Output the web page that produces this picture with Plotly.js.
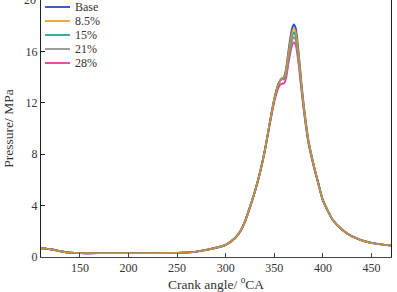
<!DOCTYPE html>
<html><head><meta charset="utf-8">
<script src="https://cdn.plot.ly/plotly-3.0.1.min.js"></script>
<style>html,body{margin:0;padding:0;background:#fff}#c{width:397px;height:292px}</style>
</head><body><div id="c"></div>
<script>
const angle = [110,120,130,140,150,175,200,225,250,260,270,280,290,300,310,315,320,325,330,335,340,345,350,355,358,360,362,365,368,370,372,375,378,380,385,390,395,400,410,420,430,440,450,460,470];
const pBase = [0.68,0.6,0.45,0.34,0.3,0.3,0.3,0.3,0.32,0.35,0.42,0.55,0.72,0.95,1.5,2.0,2.8,3.9,5.1,6.5,8.2,10.3,12.3,13.6,13.9,14.0,14.6,16.3,17.7,18.1,17.8,15.9,13.4,12.0,9.1,7.3,5.8,4.4,2.9,2.1,1.6,1.3,1.1,0.98,0.9];
const p85  = [0.68,0.6,0.45,0.34,0.3,0.3,0.3,0.3,0.32,0.35,0.42,0.55,0.72,0.95,1.5,2.0,2.8,3.9,5.1,6.5,8.2,10.3,12.3,13.6,13.9,14.0,14.5,16.1,17.4,17.8,17.5,15.7,13.3,11.9,9.1,7.3,5.8,4.4,2.9,2.1,1.6,1.3,1.1,0.98,0.9];
const p15  = [0.68,0.6,0.45,0.34,0.3,0.3,0.3,0.3,0.32,0.35,0.42,0.55,0.72,0.95,1.5,2.0,2.8,3.9,5.1,6.5,8.2,10.3,12.3,13.6,13.9,13.9,14.4,15.9,17.1,17.5,17.2,15.5,13.2,11.8,9.0,7.3,5.8,4.4,2.9,2.1,1.6,1.3,1.1,0.98,0.9];
const p21  = [0.68,0.6,0.45,0.34,0.3,0.3,0.3,0.3,0.32,0.35,0.42,0.55,0.72,0.95,1.5,2.0,2.8,3.9,5.1,6.5,8.2,10.3,12.3,13.6,13.9,13.8,14.2,15.6,16.8,17.1,16.9,15.3,13.1,11.7,9.0,7.3,5.8,4.4,2.9,2.1,1.6,1.3,1.1,0.98,0.9];
const p28  = [0.68,0.6,0.45,0.34,0.3,0.3,0.3,0.3,0.32,0.35,0.42,0.55,0.72,0.95,1.5,2.0,2.8,3.9,5.1,6.5,8.2,10.2,12.1,13.3,13.5,13.5,13.9,15.3,16.4,16.7,16.5,15.0,12.9,11.6,8.9,7.2,5.8,4.4,2.9,2.1,1.6,1.3,1.1,0.98,0.9];
const names = ['Base','8.5%','15%','21%','28%'];
const colors = ['#1f4fc4','#f0a028','#26a291','#929292','#e23c9e'];
const series = [pBase,p85,p15,p21,p28];
const drawOrder = [4,3,2,0,1];
const traces = drawOrder.map(i => ({
  x: angle, y: series[i], name: names[i], type: 'scatter', mode: 'lines',
  line: {color: colors[i], width: 1.9, shape: 'spline', smoothing: 0.6},
  opacity: i === 1 ? 0.8 : 1,
  showlegend: false
}));
const W = 397, H = 292, ML = 41, MR = 6, MT = 0, MB = 35;
const PW = W - ML - MR, PH = H - MT - MB;
const px = x => (x - ML) / PW;
const py = y => 1 - (y - MT) / PH;
const fam = '"Liberation Serif","Times New Roman",serif';
const legendY = [7, 21, 35, 49, 63];
const shapes = names.map((n, i) => ({
  type: 'line', xref: 'paper', yref: 'paper', x0: px(45), x1: px(70), y0: py(legendY[i]), y1: py(legendY[i]),
  line: {color: colors[i], width: 1.8}
}));
const annotations = names.map((n, i) => ({
  text: n, xref: 'paper', yref: 'paper', x: px(73), y: py(legendY[i]), xanchor: 'left', yanchor: 'middle',
  showarrow: false, font: {family: fam, size: 12, color: '#333'}
}));
annotations.push({text: '20', xref: 'paper', yref: 'y', x: 0, y: 20, xanchor: 'right', yanchor: 'middle', xshift: -3,
  showarrow: false, font: {family: fam, size: 12, color: '#333'}});
Plotly.newPlot('c', traces, {
  width: W, height: H,
  margin: {l: ML, r: MR, t: MT, b: MB},
  paper_bgcolor: '#fff', plot_bgcolor: '#fff',
  font: {family: fam, size: 12, color: '#333'},
  showlegend: false,
  shapes: shapes, annotations: annotations,
  xaxis: {range: [110, 470], tickvals: [150,200,250,300,350,400,450], ticks: 'inside', ticklen: 4,
          tickcolor: '#444', showline: true, linecolor: '#444', linewidth: 1, mirror: true, showgrid: false, zeroline: false,
          tickfont: {family: fam, size: 12, color: '#333'},
          title: {text: 'Crank angle/ <sup>o</sup>CA', font: {family: fam, size: 13.5, color: '#333'}, standoff: 5}},
  yaxis: {range: [0, 20], tickvals: [0,4,8,12,16], ticks: 'inside', ticklen: 4,
          tickcolor: '#222', showline: true, linecolor: '#222', linewidth: 1, mirror: true, showgrid: false, zeroline: false,
          tickfont: {family: fam, size: 12, color: '#333'},
          title: {text: 'Pressure/ MPa', font: {family: fam, size: 13.5, color: '#333'}, standoff: 8}}
}, {displayModeBar: false, staticPlot: true});
</script></body></html>
